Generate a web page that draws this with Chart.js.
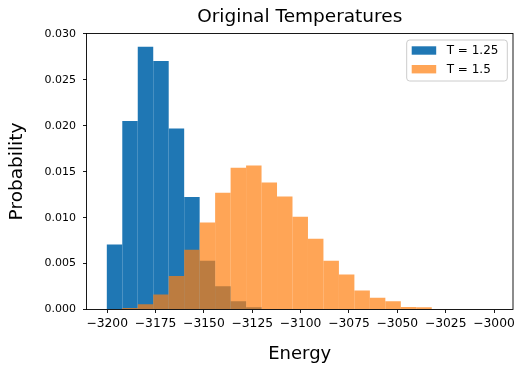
<!DOCTYPE html>
<html>
<head>
<meta charset="utf-8">
<script src="https://cdn.jsdelivr.net/npm/chart.js@4.4.1/dist/chart.umd.min.js"></script>
<style>
  html, body { margin: 0; padding: 0; background: #fff; }
  #wrap { width: 527px; height: 374px; }
</style>
</head>
<body>
<div id="wrap"><canvas id="c" width="527" height="374"></canvas></div>
<script>
// Bin centres of the histogram (Energy), bin width 8
const binCenters = [-3196.2, -3188.2, -3180.2, -3172.2, -3164.2, -3156.2, -3148.2, -3140.2,
  -3132.2, -3124.2, -3116.2, -3108.2, -3100.2, -3092.2, -3084.2, -3076.2,
  -3068.2, -3060.2, -3052.2, -3044.2, -3036.2, -3028.2];
// Probability density per bin, T = 1.25
const probT125 = [0.00708, 0.02052, 0.02862, 0.02706, 0.01972, 0.01224, 0.0053, 0.00254,
  0.0009, 0.00025, null, null, null, null, null, null, null, null, null, null, null, null];
// Probability density per bin, T = 1.5
const probT15 = [null, 0.00017, 0.00058, 0.00163, 0.00366, 0.0065, 0.00948, 0.01271,
  0.01543, 0.01569, 0.01384, 0.01231, 0.0101, 0.00769, 0.0053, 0.00381,
  0.00207, 0.00127, 0.0009, 0.00028, 0.00025, 0.00003];
const seriesLabels = ['T = 1.25', 'T = 1.5'];
const xTicks = [-3200, -3175, -3150, -3125, -3100, -3075, -3050, -3025, -3000];
const yTicks = [0, 0.005, 0.010, 0.015, 0.020, 0.025, 0.030];

const FONT = 'DejaVu Sans';
const toPoints = (arr) => binCenters.map((x, i) => ({ x: x, y: arr[i] }));

const framePlugin = {
  id: 'frame',
  afterDatasetsDraw(chart) {
    const { ctx, chartArea: a } = chart;
    ctx.save();
    ctx.strokeStyle = '#000';
    ctx.lineWidth = 0.9;
    ctx.strokeRect(a.left, a.top, a.right - a.left, a.bottom - a.top);
    ctx.restore();
  }
};

const legendBoxPlugin = {
  id: 'legendBox',
  afterDraw(chart) {
    const { ctx, chartArea: a } = chart;
    const ds = chart.data.datasets;
    const w = 100.6, h = 41;
    const x = a.right - 5.7 - w, y = a.top + 6.5;
    ctx.save();
    ctx.beginPath();
    if (ctx.roundRect) ctx.roundRect(x, y, w, h, 3); else ctx.rect(x, y, w, h);
    ctx.fillStyle = 'rgba(255,255,255,0.8)';
    ctx.fill();
    ctx.strokeStyle = '#cccccc';
    ctx.lineWidth = 1;
    ctx.stroke();
    ctx.font = '12px "' + FONT + '"';
    ctx.textBaseline = 'middle';
    ctx.textAlign = 'left';
    ds.forEach((d, i) => {
      const cy = y + 10.5 + i * 18.7;
      ctx.fillStyle = d.backgroundColor;
      ctx.fillRect(x + 5, cy - 4.2, 24.5, 8.4);
      ctx.fillStyle = '#000';
      ctx.fillText(d.label, x + 40, cy + 0.5);
    });
    ctx.restore();
  }
};

new Chart(document.getElementById('c'), {
  type: 'bar',
  data: {
    datasets: [
      { label: seriesLabels[0], data: toPoints(probT125), backgroundColor: 'rgba(31,119,180,1)', order: 1 },
      { label: seriesLabels[1], data: toPoints(probT15), backgroundColor: 'rgba(255,127,14,0.7)', order: 0 }
    ]
  },
  options: {
    responsive: false,
    animation: false,
    devicePixelRatio: 1,
    layout: { padding: { left: 0, right: 14, top: 0, bottom: 0 } },
    datasets: {
      bar: { grouped: false, categoryPercentage: 1, barPercentage: 1, borderWidth: 0, inflateAmount: 0 }
    },
    plugins: {
      legend: { display: false },
      tooltip: { enabled: false },
      title: {
        display: true,
        text: 'Original Temperatures',
        fullSize: false,
        color: '#000',
        font: { family: FONT, size: 18.5, weight: 'normal' },
        padding: { top: 5.9, bottom: 5.4 }
      }
    },
    scales: {
      x: {
        type: 'linear',
        offset: false,
        min: -3210.7,
        max: -2990.2,
        afterBuildTicks: (s) => { s.ticks = xTicks.map(v => ({ value: v })); },
        afterFit: (s) => { s.height = 64.5; },
        border: { display: false },
        grid: { offset: false, drawOnChartArea: false, drawTicks: true, tickLength: 3.5, color: '#000', lineWidth: 0.9 },
        ticks: {
          color: '#000', padding: 3, maxRotation: 0, autoSkip: false,
          font: { family: FONT, size: 12.3 },
          callback: (v) => (v < 0 ? '\u2212' : '') + Math.abs(v)
        },
        title: {
          display: true, text: 'Energy', color: '#000',
          font: { family: FONT, size: 18, weight: 'normal' },
          padding: { top: 0, bottom: 9 }
        }
      },
      y: {
        type: 'linear',
        min: 0,
        max: 0.03005,
        afterBuildTicks: (s) => { s.ticks = yTicks.map(v => ({ value: v })); },
        afterFit: (s) => { s.width = 86.5; },
        border: { display: false },
        grid: { drawOnChartArea: false, drawTicks: true, tickLength: 3.5, color: '#000', lineWidth: 0.9 },
        ticks: {
          color: '#000', padding: 7, autoSkip: false,
          font: { family: FONT, size: 11 },
          callback: (v) => Number(v).toFixed(3)
        },
        title: {
          display: true, text: 'Probability', color: '#000',
          font: { family: FONT, size: 18.5, weight: 'normal' },
          padding: { top: 6, bottom: 0 }
        }
      }
    }
  },
  plugins: [framePlugin, legendBoxPlugin]
});
</script>
</body>
</html>
